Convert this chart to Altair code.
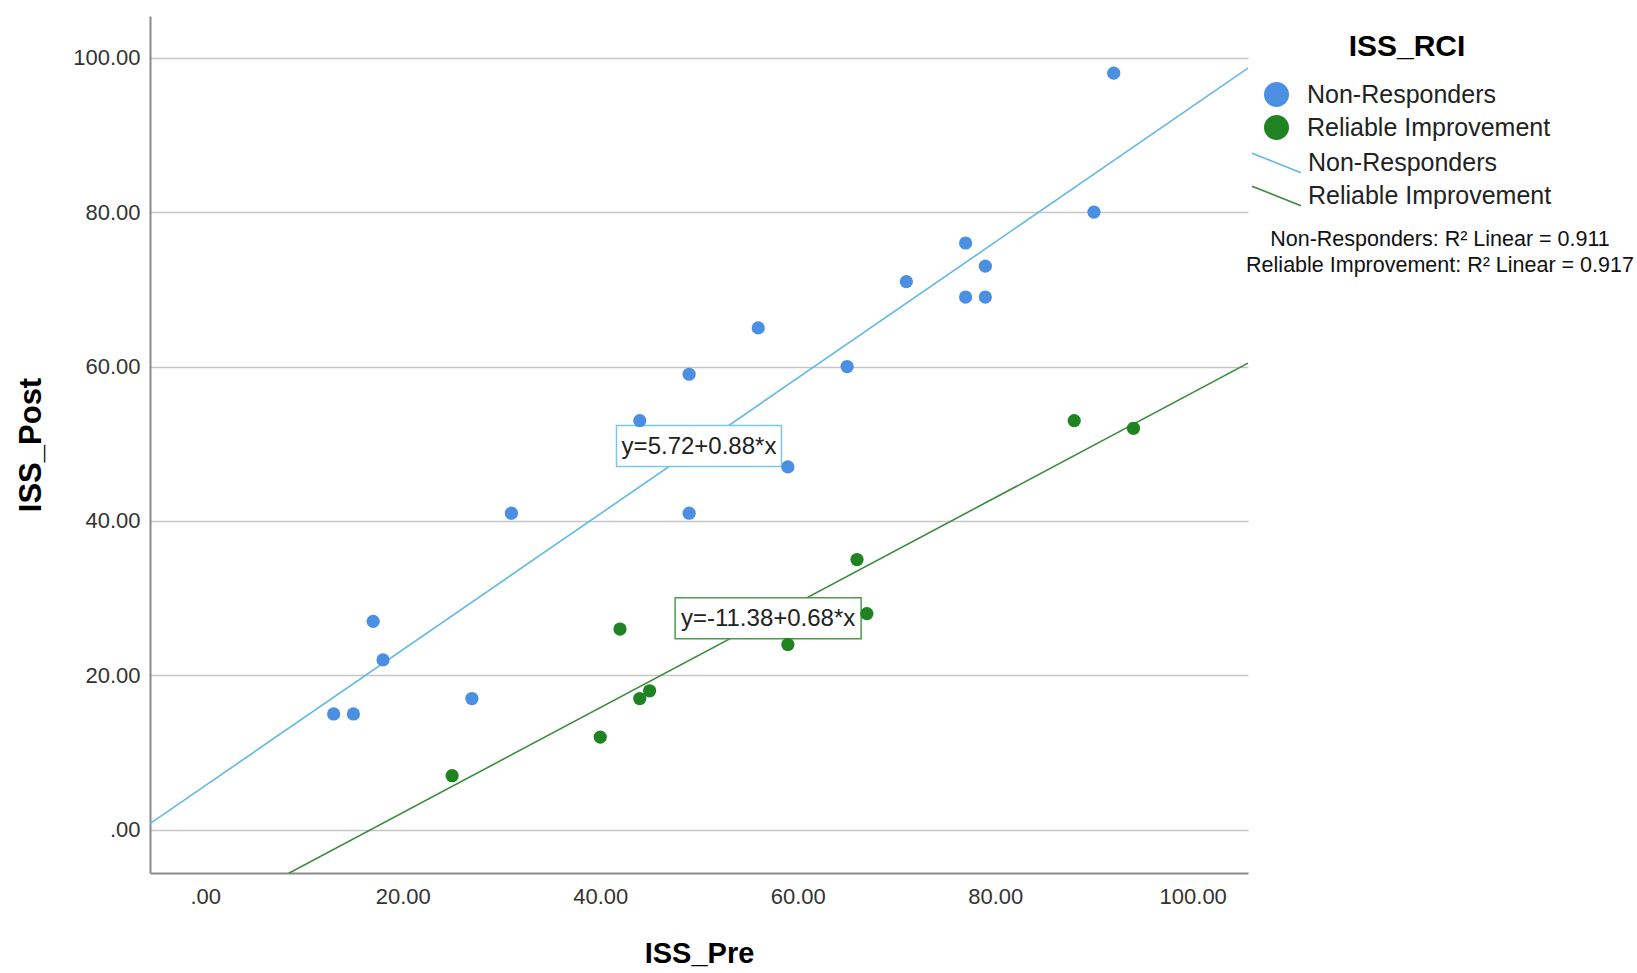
import altair as alt
import pandas as pd

# Groups from the reliable change index
groups = ["Non-Responders", "Reliable Improvement"]

# Non-Responders: pre / post scores
nr_pre = [92, 90, 77, 79, 71, 77, 79, 56, 65, 49, 44, 59, 31, 49, 17, 18, 27, 13, 15]
nr_post = [98, 80, 76, 73, 71, 69, 69, 65, 60, 59, 53, 47, 41, 41, 27, 22, 17, 15, 15]

# Reliable Improvement: pre / post scores
ri_pre = [88, 94, 66, 67, 42, 59, 45, 44, 40, 25]
ri_post = [53, 52, 35, 28, 26, 24, 18, 17, 12, 7]

# Linear fit per group
intercepts = [5.72, -11.38]
slopes = [0.88, 0.68]
r_squared = [0.911, 0.917]
label_pre = [50, 57]  # ISS_Pre position of each equation label along its fit line

x_domain = [-5.6, 105.6]
y_domain = [-5.6, 105.4]
tick_values = [0, 20, 40, 60, 80, 100]

# Styling
point_colors = ["#4b8fe3", "#1f8322"]
line_colors = ["#62b8e6", "#3c8a3c"]
box_colors = ["#7cc6ee", "#4e9a4e"]
box_widths = [165, 186]
box_height = 41
FONT = "Liberation Sans"

points = pd.DataFrame(
    {
        "ISS_Pre": nr_pre + ri_pre,
        "ISS_Post": nr_post + ri_post,
        "ISS_RCI": [groups[0]] * len(nr_pre) + [groups[1]] * len(ri_pre),
    }
)

fit_rows = []
for g, b0, b1 in zip(groups, intercepts, slopes):
    for xv in x_domain:
        fit_rows.append({"fit": g, "ISS_Pre": xv, "ISS_Post": b0 + b1 * xv})
fits = pd.DataFrame(fit_rows)

tick_label = "datum.value == 0 ? '.00' : format(datum.value, '.2f')"

x_enc = alt.X(
    "ISS_Pre:Q",
    scale=alt.Scale(domain=x_domain, nice=False, zero=False),
    axis=alt.Axis(
        title="ISS_Pre",
        values=tick_values,
        labelExpr=tick_label,
        grid=False,
        ticks=False,
        domainColor="#8a8a8a",
        domainWidth=2,
        labelFont=FONT,
        labelFontSize=22,
        labelColor="#333333",
        labelPadding=13,
        labelFlush=False,
        titleFont=FONT,
        titleFontSize=29,
        titleFontWeight="bold",
        titleColor="#000000",
        titleBaseline="alphabetic",
        titleY=89,
    ),
)
y_enc = alt.Y(
    "ISS_Post:Q",
    scale=alt.Scale(domain=y_domain, nice=False, zero=False),
    axis=alt.Axis(
        title="ISS_Post",
        values=tick_values,
        labelExpr=tick_label,
        grid=True,
        gridColor="#c6c6c6",
        gridWidth=1.5,
        ticks=False,
        domainColor="#8a8a8a",
        domainWidth=2,
        labelFont=FONT,
        labelFontSize=22,
        labelColor="#333333",
        labelPadding=10,
        labelFlush=False,
        titleFont=FONT,
        titleFontSize=31,
        titleFontWeight="bold",
        titleColor="#000000",
        titleBaseline="alphabetic",
        titleX=-110,
    ),
)

fit_lines = (
    alt.Chart(fits)
    .mark_line(clip=True, strokeWidth=1.6)
    .encode(
        x=x_enc,
        y=y_enc,
        stroke=alt.Stroke(
            "fit:N",
            scale=alt.Scale(domain=groups, range=line_colors),
            legend=alt.Legend(
                title=None,
                orient="none",
                legendX=1101,
                legendY=134,
                padding=0,
                symbolType="M-1,-0.4L1,0.4",
                symbolSize=2401,
                symbolStrokeWidth=1.6,
                clipHeight=26,
                labelFont=FONT,
                labelFontSize=25,
                labelColor="#222222",
                labelOffset=6,
                labelLimit=0,
                rowPadding=7,
            ),
        ),
        detail="fit:N",
    )
)

# Equation labels with boxes, placed on their fit lines
eq_layers = []
for g, b0, b1, lx, bc, bw in zip(groups, intercepts, slopes, label_pre, box_colors, box_widths):
    eq = pd.DataFrame(
        [{"ISS_Pre": lx, "ISS_Post": b0 + b1 * lx, "label": f"y={b0:.2f}+{b1:.2f}*x"}]
    )
    r = box_height / bw
    box = alt.Chart(eq).mark_point(
        shape=f"M-1,-{r:.4f}L1,-{r:.4f}L1,{r:.4f}L-1,{r:.4f}Z",
        size=bw * bw,
        filled=True,
        fill="white",
        fillOpacity=1,
        stroke=bc,
        strokeWidth=1.5,
        strokeOpacity=1,
        opacity=1,
    ).encode(x=x_enc, y=y_enc)
    txt = alt.Chart(eq).mark_text(
        font=FONT, fontSize=24, color="#222222", align="center", baseline="middle", dy=1
    ).encode(x=x_enc, y=y_enc, text="label:N")
    eq_layers += [box, txt]

dots = (
    alt.Chart(points)
    .mark_circle(size=175, opacity=1)
    .encode(
        x=x_enc,
        y=y_enc,
        color=alt.Color(
            "ISS_RCI:N",
            scale=alt.Scale(domain=groups, range=point_colors),
            legend=alt.Legend(
                title="ISS_RCI",
                orient="none",
                legendX=1114,
                legendY=16,
                padding=0,
                titleFont=FONT,
                titleFontSize=30,
                titleFontWeight="bold",
                titleColor="#000000",
                titleAnchor="middle",
                titlePadding=20,
                symbolType="circle",
                symbolSize=625,
                symbolOpacity=1,
                symbolStrokeWidth=0,
                labelFont=FONT,
                labelFontSize=25,
                labelColor="#222222",
                labelOffset=18,
                labelLimit=0,
                rowPadding=7,
            ),
        ),
    )
)

# R-squared notes beneath the legend
r2_layers = []
for i, (g, r2) in enumerate(zip(groups, r_squared)):
    note = pd.DataFrame([{"note": f"{g}: R\u00b2 Linear = {r2:.3f}"}])
    r2_layers.append(
        alt.Chart(note)
        .mark_text(font=FONT, fontSize=21.5, color="#111111", align="center", baseline="middle")
        .encode(x=alt.value(1290), y=alt.value(224 + 26 * i), text="note:N")
    )

chart = (
    alt.layer(fit_lines, *eq_layers, dots, *r2_layers)
    .resolve_scale(color="independent", stroke="independent")
    .properties(
        width=1098,
        height=857,
        autosize=alt.AutoSizeParams(type="none"),
        padding={"left": 150, "top": 16, "right": 389, "bottom": 100},
        background="white",
    )
    .configure_view(stroke=None)
)

chart.save("out.html", embed_options={"renderer": "svg", "actions": False})
